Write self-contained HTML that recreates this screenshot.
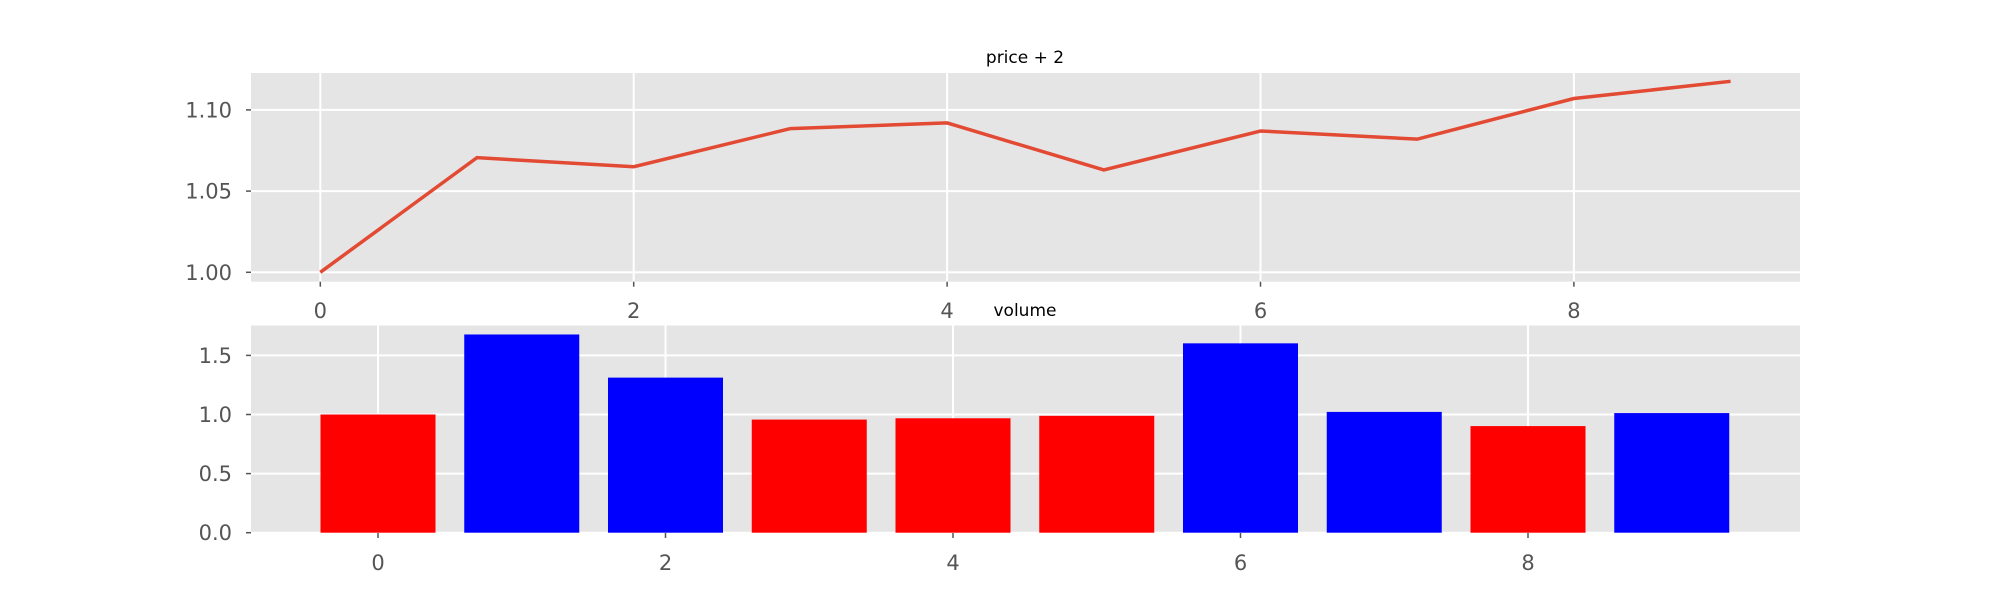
<!DOCTYPE html>
<html><head><meta charset="utf-8"><style>
body{margin:0;background:#fff}
svg text{font-family:"DejaVu Sans","Liberation Sans",sans-serif}
</style></head><body>
<svg id="c" width="2000" height="600" xmlns="http://www.w3.org/2000/svg"></svg>
<script>
const lineX=[0,1,2,3,4,5,6,7,8,9];
const priceVals=[1.000,1.0706,1.065,1.0885,1.092,1.063,1.087,1.082,1.107,1.1176];
const topYTicks=[1.00,1.05,1.10];
const topYLabels=["1.00","1.05","1.10"];
const xTicks=[0,2,4,6,8];
const volumeVals=[1.0,1.677,1.312,0.957,0.968,0.989,1.602,1.022,0.902,1.012];
const barColors=["#ff0000","#0000ff","#0000ff","#ff0000","#ff0000","#ff0000","#0000ff","#0000ff","#ff0000","#0000ff"];
const botYTicks=[0,0.5,1.0,1.5];
const botYLabels=["0.0","0.5","1.0","1.5"];

const svg=document.getElementById('c');
const NS="http://www.w3.org/2000/svg";
function mk(tag,attrs,parent){const e=document.createElementNS(NS,tag);for(const k in attrs)e.setAttribute(k,attrs[k]);(parent||svg).appendChild(e);return e;}

// top axes
const TT=73, TB=281.7;
const tx=v=>320.3+v*156.7;
const ty=v=>272.3-(v-1.0)/0.05*81.2;
const g1=mk('g',{});


const bg1=mk('rect',{x:251,y:TT,width:1549,height:TB-TT,fill:'#e5e5e5'},g1);


topYTicks.forEach((t,i)=>{
  mk('line',{x1:251,x2:1800,y1:ty(t),y2:ty(t),stroke:'#fff','stroke-width':2},g1);
  mk('line',{x1:246,x2:251,y1:ty(t),y2:ty(t),stroke:'#555','stroke-width':1.5},g1);
  const l=mk('text',{x:232,y:ty(t)+7.5,'text-anchor':'end','font-size':21,fill:'#555'},g1);
  l.textContent=topYLabels[i];
  
  
});
xTicks.forEach(t=>{
  mk('line',{x1:tx(t),x2:tx(t),y1:TT,y2:TB,stroke:'#fff','stroke-width':2},g1);
  mk('line',{x1:tx(t),x2:tx(t),y1:TB,y2:TB+5,stroke:'#555','stroke-width':1.5},g1);
  const l=mk('text',{x:tx(t),y:318,'text-anchor':'middle','font-size':21,fill:'#555'},g1);
  l.textContent=String(t);
  
  
});
const pl=mk('polyline',{points:lineX.map((x,i)=>tx(x)+','+ty(priceVals[i])).join(' '),fill:'none',stroke:'#e24a33','stroke-width':3.5},g1);


const t1=mk('text',{x:1025,y:63,'text-anchor':'middle','font-size':17,fill:'#000'},g1);
t1.textContent='price + 2';



// bottom axes
const BT=325.5, BB=533;
const bx=v=>378+v*143.75;
const by=v=>532.7-v*118.2;
const g2=mk('g',{});


const bg2=mk('rect',{x:251,y:BT,width:1549,height:BB-BT,fill:'#e5e5e5'},g2);


botYTicks.forEach((t,i)=>{
  mk('line',{x1:251,x2:1800,y1:by(t),y2:by(t),stroke:'#fff','stroke-width':2},g2);
  mk('line',{x1:246,x2:251,y1:by(t),y2:by(t),stroke:'#555','stroke-width':1.5},g2);
  const l=mk('text',{x:232,y:by(t)+7.5,'text-anchor':'end','font-size':21,fill:'#555'},g2);
  l.textContent=botYLabels[i];
  
  
});
xTicks.forEach(t=>{
  mk('line',{x1:bx(t),x2:bx(t),y1:BT,y2:BB,stroke:'#fff','stroke-width':2},g2);
  mk('line',{x1:bx(t),x2:bx(t),y1:BB,y2:BB+5,stroke:'#555','stroke-width':1.5},g2);
  const l=mk('text',{x:bx(t),y:570,'text-anchor':'middle','font-size':21,fill:'#555'},g2);
  l.textContent=String(t);
  
  
});
volumeVals.forEach((v,i)=>{
  const r=mk('rect',{x:bx(i)-0.4*143.75,y:by(v),width:0.8*143.75,height:by(0)-by(v),fill:barColors[i]},g2);
  
  
});
const t2=mk('text',{x:1025,y:316,'text-anchor':'middle','font-size':17,fill:'#000'},g2);
t2.textContent='volume';


</script>
</body></html>
